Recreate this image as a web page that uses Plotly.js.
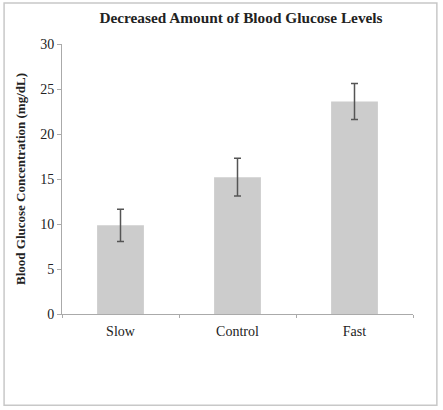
<!DOCTYPE html>
<html>
<head>
<meta charset="utf-8">
<script src="https://cdn.plot.ly/plotly-3.0.1.min.js"></script>
<style>
html,body{margin:0;padding:0;background:#fff;}
#chart{width:443px;height:410px;}
</style>
</head>
<body>
<div id="chart"></div>
<script>
const categories = ["Slow", "Control", "Fast"];
const glucoseValues = [9.85, 15.2, 23.6];
const errorValues = [1.8, 2.1, 2.0];
const yTickValues = [0, 5, 10, 15, 20, 25, 30];

const serif = "'Liberation Serif', serif";

const trace = {
  type: "bar",
  x: categories,
  y: glucoseValues,
  marker: {color: "#cccccc", line: {width: 0}},
  error_y: {type: "data", array: errorValues, visible: true, color: "#555555", thickness: 1.5, width: 3.5},
  hoverinfo: "x+y"
};

const layout = {
  width: 443,
  height: 410,
  paper_bgcolor: "#ffffff",
  plot_bgcolor: "#ffffff",
  margin: {l: 62, r: 30, t: 44, b: 95.5},
  bargap: 0.6,
  showlegend: false,
  font: {family: serif},
  title: {
    text: "<b>Decreased Amount of Blood Glucose Levels</b>",
    font: {family: serif, size: 15.3, color: "#222222"},
    xref: "container", x: 0.544, xanchor: "center",
    yref: "container", y: 0.958, yanchor: "middle"
  },
  xaxis: {
    type: "category",
    showline: true, linecolor: "#aaaaaa", linewidth: 1,
    ticks: "outside", ticklen: 3, tickcolor: "#aaaaaa", tickson: "boundaries",
    ticklabelstandoff: 4,
    tickfont: {family: serif, size: 14, color: "#222222"},
    showgrid: false, zeroline: false
  },
  yaxis: {
    range: [0, 30],
    tickmode: "array", tickvals: yTickValues, ticktext: yTickValues.map(String),
    showline: true, linecolor: "#aaaaaa", linewidth: 1,
    ticks: "outside", ticklen: 4, tickcolor: "#aaaaaa",
    tickfont: {family: serif, size: 14, color: "#222222"},
    showgrid: false, zeroline: false,
    title: {
      text: "<b>Blood Glucose Concentration (mg/dL)</b>",
      font: {family: serif, size: 13, color: "#222222"},
      standoff: 11
    }
  },
  shapes: [{
    type: "rect", xref: "paper", yref: "paper",
    x0: -0.165, x1: 1.068, y0: -0.338, y1: 1.1516,
    line: {color: "#c8c8c8", width: 1.5}
  }]
};

Plotly.newPlot("chart", [trace], layout, {displayModeBar: false, staticPlot: true});
</script>
</body>
</html>
